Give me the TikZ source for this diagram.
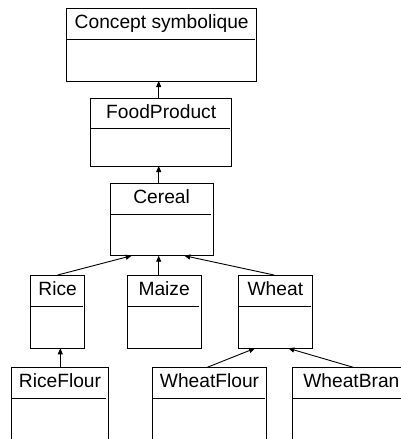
\documentclass[tikz,border=0pt]{standalone}
\usepackage{fontspec}
\setmainfont{Liberation Sans}
\usetikzlibrary{arrows.meta,calc}
\tikzset{
  classbox/.style={draw=black,line width=0.9pt,inner sep=0pt,outer sep=0pt},
  classname/.style={anchor=base,inner sep=0pt,font=\fontsize{19.2}{22}\selectfont},
  sepline/.style={draw=black,line width=0.9pt},
  gen/.style={draw=black,line width=0.9pt,-{Triangle[length=6pt,width=5pt]}}
}
% \classbox{name}{x1}{y1}{x2}{y2}{sep}{text}
\newcommand{\umlclass}[7]{%
  \node[classbox,minimum width={(#4-#2)*1pt},minimum height={(#5-#3)*1pt}] (#1) at ({(#2+#4)/2},{(#3+#5)/2}) {};
  \node[classname] (#1-label) at ({(#2+#4)/2},{#3+20.5}) {#7};
  \draw[sepline] (#2,#6) -- ({#4-2},#6);
}
\begin{document}
\begin{tikzpicture}[x=1pt,y=-1pt]
\useasboundingbox (0,0) rectangle (401,439);
\clip (0,0) rectangle (401,439);
\fill[white] (0,0) rectangle (401,439);
\umlclass{concept}{66.7}{8.3}{256.7}{81}{39}{Concept symbolique}
\umlclass{food}{90.7}{98.3}{231.7}{166}{128.7}{FoodProduct}
\umlclass{cereal}{110}{183.3}{213.3}{255.7}{214.3}{Cereal}
\umlclass{rice}{30.7}{275}{84.7}{348.3}{306}{Rice}
\umlclass{maize}{127.3}{275}{201}{348.3}{306}{Maize}
\umlclass{wheat}{238}{275}{312.7}{348.3}{306}{Wheat}
\umlclass{riceflour}{11.7}{367.3}{108.3}{470}{398.7}{RiceFlour}
\umlclass{wheatflour}{152.3}{367.3}{266.7}{470}{398.7}{WheatFlour}
\umlclass{wheatbran}{292.7}{367.3}{410}{470}{398.7}{WheatBran}
% connectors
\draw[gen] ($(food.north west)+(68,0)$) -- ($(concept.south west)+(92,0)$);
\draw[gen] ($(cereal.north west)+(48.7,0)$) -- ($(food.south west)+(68,0)$);
\draw[gen] (rice.north) -- ($(cereal.south west)+(21.7,0)$);
\draw[gen] ($(maize.north west)+(31.4,0)$) -- ($(cereal.south west)+(48.7,0)$);
\draw[gen] ($(wheat.north west)+(36,0)$) -- ($(cereal.south west)+(74.3,0)$);
\draw[gen] ($(riceflour.north west)+(48.6,0)$) -- ($(rice.south west)+(29.6,0)$);
\draw[gen] ($(wheatflour.north west)+(55,0)$) -- ($(wheat.south west)+(17,0)$);
\draw[gen] ($(wheatbran.north west)+(60.6,0)$) -- ($(wheat.south west)+(50.3,0)$);
\end{tikzpicture}
\end{document}
